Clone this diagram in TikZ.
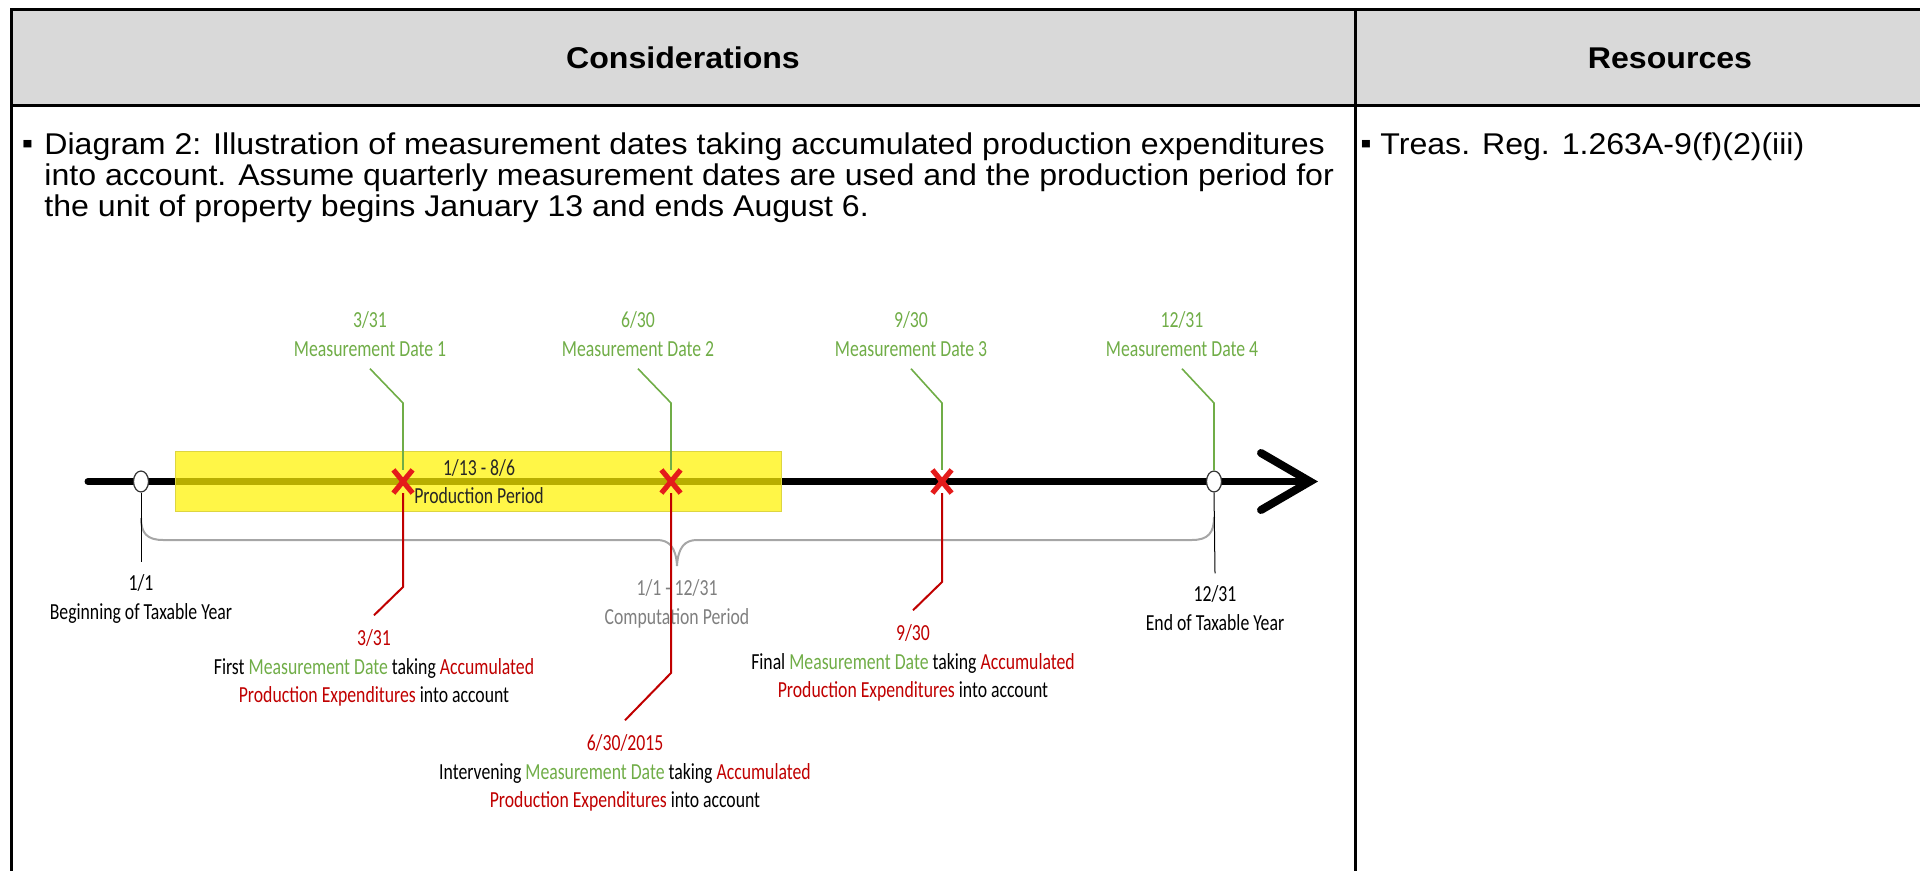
\documentclass[tikz,border=0pt]{standalone}
\usepackage{fontspec}
\setmainfont{Liberation Sans}[FakeStretch=1.07]
\newfontfamily\diagfont{Carlito}[FakeStretch=0.77]
\usepackage{tikz}
\usetikzlibrary{calc,shapes.geometric,shapes.misc}
\definecolor{hdrgray}{HTML}{D9D9D9}
\definecolor{mgreen}{HTML}{70AD47}
\definecolor{mred}{HTML}{C00000}
\definecolor{xred}{HTML}{E41B1B}
\definecolor{cgray}{HTML}{7F7F7F}
\definecolor{bgray}{HTML}{A6A6A6}
\tikzset{
  rule/.style    = {line width=1.5pt,black},
  hdr/.style     = {font=\fontsize{15}{17}\selectfont\bfseries,inner sep=0pt},
  body/.style    = {font=\fontsize{15}{15.5}\selectfont,align=left,
                    inner sep=0pt,anchor=north west},
  bul/.style     = {font=\fontsize{15}{17}\selectfont,inner sep=0pt,anchor=base},
  lbl/.style     = {font=\diagfont\fontsize{11.5}{14.25}\selectfont,align=center,
                    inner sep=0pt},
  mdate/.style   = {lbl,text=mgreen},
  yrdot/.style   = {ellipse,draw=black!80,fill=white,line width=0.6pt,
                    minimum width=7.5pt,minimum height=10.5pt,inner sep=0pt},
  xmk/.style     = {cross out,draw=xred,line width=2.6pt,minimum width=7pt,
                    minimum height=9pt,inner sep=0pt},
  prodbox/.style = {draw=yellow!70!gray,fill=yellow,fill opacity=0.72,
                    line width=0.5pt,minimum width=303pt,minimum height=30pt},
  gline/.style   = {mgreen,line width=0.8pt},
  rline/.style   = {mred,line width=1pt},
  tline/.style   = {black,line width=0.5pt},
}
\newcommand{\meas}{\textcolor{mgreen}{Measurement Date}}
\newcommand{\accum}[1]{\textcolor{mred}{#1}}

\begin{document}
\begin{tikzpicture}[x=0.5pt,y=-0.5pt]
  \useasboundingbox (0,0) rectangle (1920,871);
  \clip (0,0) rectangle (1920,871);

  % table frame
  \fill[hdrgray] (11,10) rectangle (1930,106);
  \draw[rule] (1930,10) -- (11,10) -- (11,890);
  \draw[rule] (11,106) -- (1930,106);
  \draw[rule] (1355,10) -- (1355,890);
  \node[hdr] (hcons) at (683,58) {Considerations};
  \node[hdr] (hres) at (1670,58) {Resources};

  \node[bul] (b1) at (27.5,154) {▪};
  \node[body] (cons) at (44,132)
     {Diagram 2: Illustration of measurement dates taking accumulated production expenditures\\
      into account. Assume quarterly measurement dates are used and the production period for\\
      the unit of property begins January 13 and ends August 6.};
  \node[bul] (b2) at (1366,154) {▪};
  \node[body] (res) at (1380,132) {Treas. Reg. 1.263A-9(f)(2)(iii)};

  % timeline
  \coordinate (tlstart) at (88,481.5);
  \coordinate (tltip) at (1310,481.5);
  \draw[line width=3.5pt,line cap=round] (tlstart) -- (tltip);
  \draw[line width=4pt,line cap=round,line join=miter]
     ($(tltip)+(-49,-28.5)$) -- (tltip) -- ($(tltip)+(-49,28.5)$);

  \node[prodbox] (prod) at (478,481) {};
  \node[lbl,text=black!85] (prodlbl) at (479,481.5) {1/13 - 8/6\\Production Period};

  % computation period brace
  \draw[bgray,line width=1pt] (141,518) .. controls (141,533) and (147,540) .. (163,540)
     -- (657,540) .. controls (669,540) and (676,547) .. (677,566)
     .. controls (678,547) and (685,540) .. (697,540)
     -- (1192,540) .. controls (1208,540) and (1214,533) .. (1214,517);

  \node[yrdot] (ystart) at (141,481.5) {};
  \node[yrdot] (yend) at (1214,481.5) {};
  \node[xmk] (x1) at (403,481.5) {};
  \node[xmk] (x2) at (671,481.5) {};
  \node[xmk] (x3) at (942,481.5) {};

  % labels above
  \node[mdate] (g1) at (370,334) {3/31\\Measurement Date 1};
  \node[mdate] (g2) at (638,334) {6/30\\Measurement Date 2};
  \node[mdate] (g3) at (911,334) {9/30\\Measurement Date 3};
  \node[mdate] (g4) at (1182,334) {12/31\\Measurement Date 4};
  \foreach \g/\t in {g1/x1,g2/x2,g3/x3,g4/yend}
     \draw[gline] ([yshift=-6pt]\g.south) -- (\t |- 0,403) -- (\t.north);

  % labels below
  \node[lbl] (ybeg) at (141,599) {1/1\\Beginning of Taxable Year};
  \node[lbl,text=cgray] (cper) at (677,604) {1/1 - 12/31\\Computation Period};
  \node[lbl] (yendl) at (1215,608) {12/31\\End of Taxable Year};
  \draw[tline] (ystart.south) -- ([yshift=6pt]ybeg.north);
  \draw[tline] (yend.south) -- ([yshift=6pt]yendl.north);

  \node[lbl] (r1) at (374,668)
     {\accum{3/31}\\First \meas{} taking \accum{Accumulated}\\\accum{Production Expenditures} into account};
  \node[lbl] (r2) at (625,773)
     {\accum{6/30/2015}\\Intervening \meas{} taking \accum{Accumulated}\\\accum{Production Expenditures} into account};
  \node[lbl] (r3) at (913,663)
     {\accum{9/30}\\Final \meas{} taking \accum{Accumulated}\\\accum{Production Expenditures} into account};
  \foreach \x/\r/\k in {x1/r1/587,x2/r2/673,x3/r3/582}
     \draw[rline] (\x.south) -- (\x |- 0,\k) -- ([yshift=7pt]\r.north);
\end{tikzpicture}
\end{document}
